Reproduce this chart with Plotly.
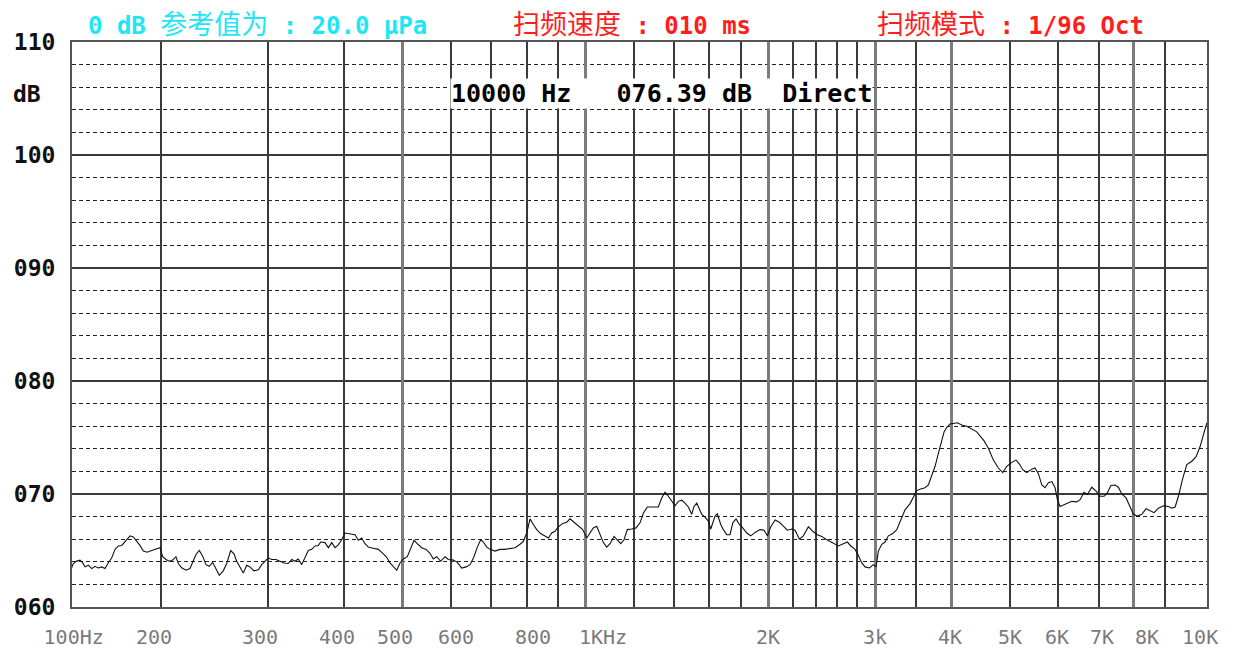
import math
import plotly.graph_objects as go

# ---------------- data ----------------
freq_hz = [
    142.4, 143.3, 145.1, 147.0, 148.5, 149.8, 151.7, 153.7, 155.6, 157.5,
    159.6, 161.6, 163.6, 165.8, 167.9, 170.0, 172.2, 174.3, 177.7, 179.9,
    182.3, 184.5, 186.9, 189.7, 192.9, 196.6, 199.1, 201.1, 203.7, 206.2,
    208.9, 211.5, 213.4, 216.2, 219.7, 223.1, 225.9, 228.2, 231.1, 234.1,
    237.0, 240.0, 243.1, 246.2, 249.3, 253.1, 256.4, 260.3, 263.6, 266.3,
    269.7, 273.1, 276.6, 280.1, 284.4, 289.1, 292.8, 296.5, 300.2, 304.1,
    309.1, 313.8, 318.7, 323.9, 328.1, 332.2, 336.4, 340.8, 345.1, 349.4,
    354.0, 358.4, 363.0, 366.3, 372.3, 377.0, 381.9, 386.7, 391.5, 396.6,
    401.6, 409.3, 417.2, 422.4, 427.9, 433.3, 438.8, 447.1, 455.7, 464.5,
    470.5, 476.4, 483.7, 488.7, 494.8, 501.0, 508.7, 515.3, 521.8, 528.3,
    537.2, 546.1, 554.4, 561.4, 568.7, 577.4, 586.9, 594.3, 605.7, 614.9,
    625.3, 635.6, 645.3, 655.1, 663.4, 672.0, 678.7, 687.4, 696.2, 709.4,
    723.0, 736.9, 751.0, 765.4, 780.0, 789.9, 800.1, 810.2, 820.4, 831.0,
    843.7, 857.6, 868.4, 879.7, 890.7, 901.9, 917.1, 931.2, 942.9, 957.3,
    973.1, 989.4, 1004.6, 1017.2, 1030.0, 1043.4, 1056.5, 1069.9, 1083.7, 1097.4,
    1114.2, 1128.2, 1142.8, 1157.2, 1171.8, 1191.5, 1211.1, 1229.6, 1245.1, 1264.2,
    1293.3, 1318.0, 1335.1, 1351.9, 1369.0, 1386.8, 1404.2, 1421.9, 1440.4, 1458.5,
    1476.9, 1496.0, 1509.1, 1524.7, 1539.8, 1553.8, 1573.5, 1593.3, 1607.9, 1620.1,
    1634.3, 1648.6, 1670.0, 1686.6, 1708.5, 1730.0, 1747.8, 1769.8, 1792.2, 1815.5,
    1843.2, 1871.4, 1902.2, 1938.6, 1968.2, 1993.1, 2019.0, 2052.2, 2085.9, 2117.8,
    2150.1, 2186.3, 2213.8, 2250.2, 2284.6, 2328.5, 2367.7, 2409.2, 2449.8, 2490.0,
    2528.2, 2566.9, 2609.1, 2658.9, 2699.6, 2734.7, 2779.6, 2814.6, 2851.1, 2887.0,
    2934.7, 2979.4, 3010.0, 3036.3, 3075.7, 3114.4, 3153.6, 3206.7, 3255.8, 3305.7,
    3360.0, 3424.1, 3476.6, 3512.2, 3566.0, 3624.6, 3670.2, 3717.8, 3765.0, 3812.4,
    3861.9, 3895.6, 3935.6, 3985.5, 4097.1, 4166.1, 4246.0, 4410.0, 4533.9, 4608.4,
    4696.8, 4786.4, 4867.0, 4941.6, 5036.4, 5119.2, 5183.6, 5250.9, 5331.3, 5433.0,
    5501.4, 5571.1, 5643.5, 5714.5, 5786.4, 5861.5, 5935.2, 5987.1, 6049.1, 6125.2,
    6204.7, 6323.7, 6444.4, 6525.5, 6625.4, 6708.8, 6821.8, 6933.9, 7040.1, 7147.9,
    7237.8, 7331.8, 7452.3, 7546.0, 7644.0, 7769.6, 7888.6, 7987.9, 8109.4, 8246.8,
    8382.3, 8509.8, 8640.2, 8782.2, 8950.7, 9122.4, 9240.8, 9357.1, 9474.8, 9634.4,
    9781.9, 9969.6, 10132.5, 10287.7, 10417.1, 10552.4,
]
level_db = [
    63.47, 63.85, 64.06, 64.15, 63.90, 63.55, 63.70, 63.40, 63.60, 63.45,
    63.55, 63.40, 63.90, 64.35, 65.10, 65.40, 65.45, 65.80, 66.30, 66.20,
    65.80, 65.45, 64.95, 64.85, 65.00, 65.15, 65.25, 64.45, 64.20, 64.05,
    64.15, 64.45, 63.85, 63.47, 63.26, 63.40, 64.05, 64.65, 65.00, 64.50,
    63.75, 63.60, 63.95, 63.40, 62.80, 63.20, 63.85, 65.00, 64.70, 64.05,
    63.55, 63.00, 63.70, 63.55, 63.20, 63.30, 63.75, 64.05, 64.35, 64.20,
    64.20, 64.05, 63.90, 63.85, 64.20, 64.05, 64.25, 63.75, 64.35, 65.00,
    65.10, 65.40, 65.45, 65.75, 65.70, 65.25, 65.70, 65.25, 65.50, 65.95,
    66.55, 66.50, 66.40, 65.90, 66.10, 65.60, 65.30, 65.20, 65.10, 64.70,
    64.40, 63.90, 63.55, 63.25, 63.90, 64.25, 64.45, 65.25, 65.90, 65.60,
    65.25, 65.10, 64.75, 64.25, 64.45, 64.05, 64.45, 64.20, 64.15, 63.95,
    63.45, 63.55, 63.75, 64.45, 65.30, 65.95, 65.75, 65.30, 65.10, 64.95,
    65.10, 65.10, 65.15, 65.25, 65.55, 65.80, 66.55, 67.80, 67.30, 66.85,
    66.50, 66.30, 66.10, 66.55, 66.70, 67.10, 67.40, 67.50, 67.80, 67.50,
    67.15, 66.85, 66.10, 66.50, 67.00, 67.15, 66.50, 65.70, 65.30, 65.60,
    66.25, 65.95, 65.60, 65.95, 66.85, 66.90, 67.00, 67.45, 68.30, 68.85,
    68.85, 68.85, 69.65, 70.15, 69.80, 69.35, 68.95, 69.35, 69.45, 69.20,
    68.85, 68.20, 68.90, 69.20, 68.75, 68.20, 67.95, 67.60, 66.90, 67.40,
    68.05, 68.25, 67.30, 66.85, 66.40, 66.40, 67.45, 67.80, 67.30, 67.00,
    66.55, 66.30, 66.60, 66.85, 66.80, 66.30, 67.10, 67.70, 67.50, 67.15,
    66.80, 66.90, 66.80, 66.00, 66.30, 67.10, 66.70, 66.40, 66.25, 66.00,
    65.80, 65.60, 65.40, 65.60, 65.75, 65.40, 65.10, 64.55, 63.90, 63.55,
    63.45, 63.75, 63.55, 64.95, 65.55, 65.75, 66.30, 66.50, 66.85, 67.70,
    68.60, 69.15, 69.80, 70.30, 70.45, 70.55, 70.80, 71.55, 72.45, 73.60,
    74.80, 75.50, 75.90, 76.20, 76.30, 76.10, 76.00, 75.50, 74.70, 74.05,
    73.00, 72.30, 71.90, 72.45, 72.80, 73.00, 72.65, 72.15, 71.90, 72.20,
    72.30, 71.80, 70.80, 70.55, 71.00, 71.10, 70.55, 69.50, 68.90, 69.00,
    69.15, 69.35, 69.30, 69.50, 70.15, 69.95, 70.60, 70.25, 69.80, 69.80,
    70.10, 70.75, 70.80, 70.60, 70.00, 69.65, 68.90, 68.20, 68.05, 68.20,
    68.70, 68.50, 68.35, 68.75, 68.95, 68.90, 68.75, 68.85, 69.80, 71.40,
    72.60, 72.90, 73.30, 74.20, 75.20, 76.30,
]

x_range_hz = [142.6, 10560.0]
y_range_db = [60, 110]

grid_thin_hz = [200, 300, 400, 600, 700, 800, 900, 1200, 1400, 1600, 1800,
                2200, 2400, 2600, 2800, 3500, 5000, 6000, 7000, 9000]
grid_thick_hz = [500, 1000, 2000, 3000, 4000, 8000]

label_pos_hz = [143.5, 194.6, 291.0, 389.6, 485.5, 611.9, 819.5, 1068.6,
                1998, 2998, 3985, 5003, 5980, 7093, 8413, 10288]
label_text = ["100Hz", "200", "300", "400", "500", "600", "800", "1KHz",
              "2K", "3k", "4K", "5K", "6K", "7K", "8K", "10K"]

y_tick_vals = [60, 70, 80, 90, 100, 110]
y_tick_text = ["060", "070", "080", "090", "100", "110"]
y_unit = "dB"
y_unit_level = 105.4

header_ref = ["0 dB ", "参考值为", " : 20.0 μPa"]
header_speed = ["", "扫频速度", " : 010 ms"]
header_mode = ["", "扫频模式", " : 1/96 Oct"]
readout = "10000 Hz   076.39 dB  Direct"

# ---------------- figure ----------------
MONO = "DejaVu Sans Mono, Noto Sans CJK SC, monospace"
xr = [math.log10(v) for v in x_range_hz]

# the page puts the figure 8 px in from the top-left corner
OFF = 8
FIG_W, FIG_H = 1222, 643
M_L, M_T = 72 - OFF, 42 - OFF
M_R = FIG_W - (1207 - OFF)
M_B = FIG_H - (607 - OFF)
PW = FIG_W - M_L - M_R
PH = FIG_H - M_T - M_B

fig = go.Figure()
fig.add_trace(go.Scatter(
    x=freq_hz, y=level_db, mode="lines",
    line=dict(color="#111111", width=1.1),
    showlegend=False, hoverinfo="skip",
))
# empty helper traces so that the overlaid label / heavy-grid axes are drawn
for ax in ("x2", "x3"):
    fig.add_trace(go.Scatter(
        x=x_range_hz, y=[None, None], xaxis=ax, yaxis="y", mode="lines",
        showlegend=False, hoverinfo="skip",
    ))


def header_html(parts):
    latin1, cjk, latin2 = parts
    s = ""
    if latin1:
        s += "<b>" + latin1.replace(" ", "&nbsp;") + "</b>"
    s += '<span style="font-size:27px;font-weight:normal">' + cjk + "</span>"
    s += "<b>" + latin2.replace(" ", "&nbsp;") + "</b>"
    return s


def px_x(px):
    return (px - 72) / PW


def px_y(py):
    return (607 - py) / PH


HDR_Y = 24
annotations = [
    dict(text=header_html(header_ref), xref="paper", yref="paper",
         x=px_x(86), y=px_y(HDR_Y), xanchor="left", yanchor="middle",
         showarrow=False, font=dict(family=MONO, size=24, color="#1EE6F5")),
    dict(text=header_html(header_speed), xref="paper", yref="paper",
         x=px_x(511), y=px_y(HDR_Y), xanchor="left", yanchor="middle",
         showarrow=False, font=dict(family=MONO, size=24, color="#FF1E1E")),
    dict(text=header_html(header_mode), xref="paper", yref="paper",
         x=px_x(875), y=px_y(HDR_Y), xanchor="left", yanchor="middle",
         showarrow=False, font=dict(family=MONO, size=24, color="#FF1E1E")),
    dict(text="<b>" + readout.replace(" ", "&nbsp;") + "</b>", xref="paper", yref="paper",
         x=px_x(450), y=px_y(93), xanchor="left", yanchor="middle",
         showarrow=False, bgcolor="white", borderpad=0,
         font=dict(family=MONO, size=25, color="#000000")),
    dict(text="<b>" + y_unit + "</b>", xref="paper", yref="y",
         x=0, y=y_unit_level, xanchor="left", yanchor="middle", xshift=-61,
         showarrow=False, font=dict(family=MONO, size=23, color="#111111")),
]

fig.update_layout(
    width=FIG_W, height=FIG_H,
    margin=dict(l=M_L, r=M_R, t=M_T, b=M_B, autoexpand=False),
    paper_bgcolor="white", plot_bgcolor="white",
    showlegend=False,
    xaxis=dict(
        type="log", range=xr, tickmode="array", tickvals=grid_thin_hz,
        showticklabels=False, ticks="", showgrid=True,
        gridcolor="#3a3a3a", gridwidth=1.5, zeroline=False,
        showline=True, linecolor="#555555", linewidth=2, mirror=True,
    ),
    xaxis2=dict(
        type="log", range=xr, overlaying="x", anchor="y", side="bottom",
        tickmode="array", tickvals=label_pos_hz, ticktext=label_text,
        showgrid=False, ticks="", zeroline=False, showline=False,
        tickfont=dict(family=MONO, size=20, color="#7a7a7a"),
        ticklabelstandoff=16,
    ),
    xaxis3=dict(
        type="log", range=xr, overlaying="x", anchor="y",
        tickmode="array", tickvals=grid_thick_hz,
        showticklabels=False, ticks="", showgrid=True,
        gridcolor="#7c7c7c", gridwidth=3, zeroline=False, showline=False,
    ),
    yaxis=dict(
        range=y_range_db, tickmode="array", tickvals=y_tick_vals, ticktext=y_tick_text,
        showgrid=True, gridcolor="#3a3a3a", gridwidth=1.5, zeroline=False,
        showline=True, linecolor="#555555", linewidth=2, mirror=True, ticks="",
        tickfont=dict(family=MONO, size=23, color="#111111", weight="bold"),
        ticklabelstandoff=10,
        minor=dict(tickmode="linear", tick0=60, dtick=2, showgrid=True,
                   gridcolor="#222222", gridwidth=1.2, griddash="4px,3px", ticks=""),
    ),
    annotations=annotations,
)

fig.write_html("out.html")
